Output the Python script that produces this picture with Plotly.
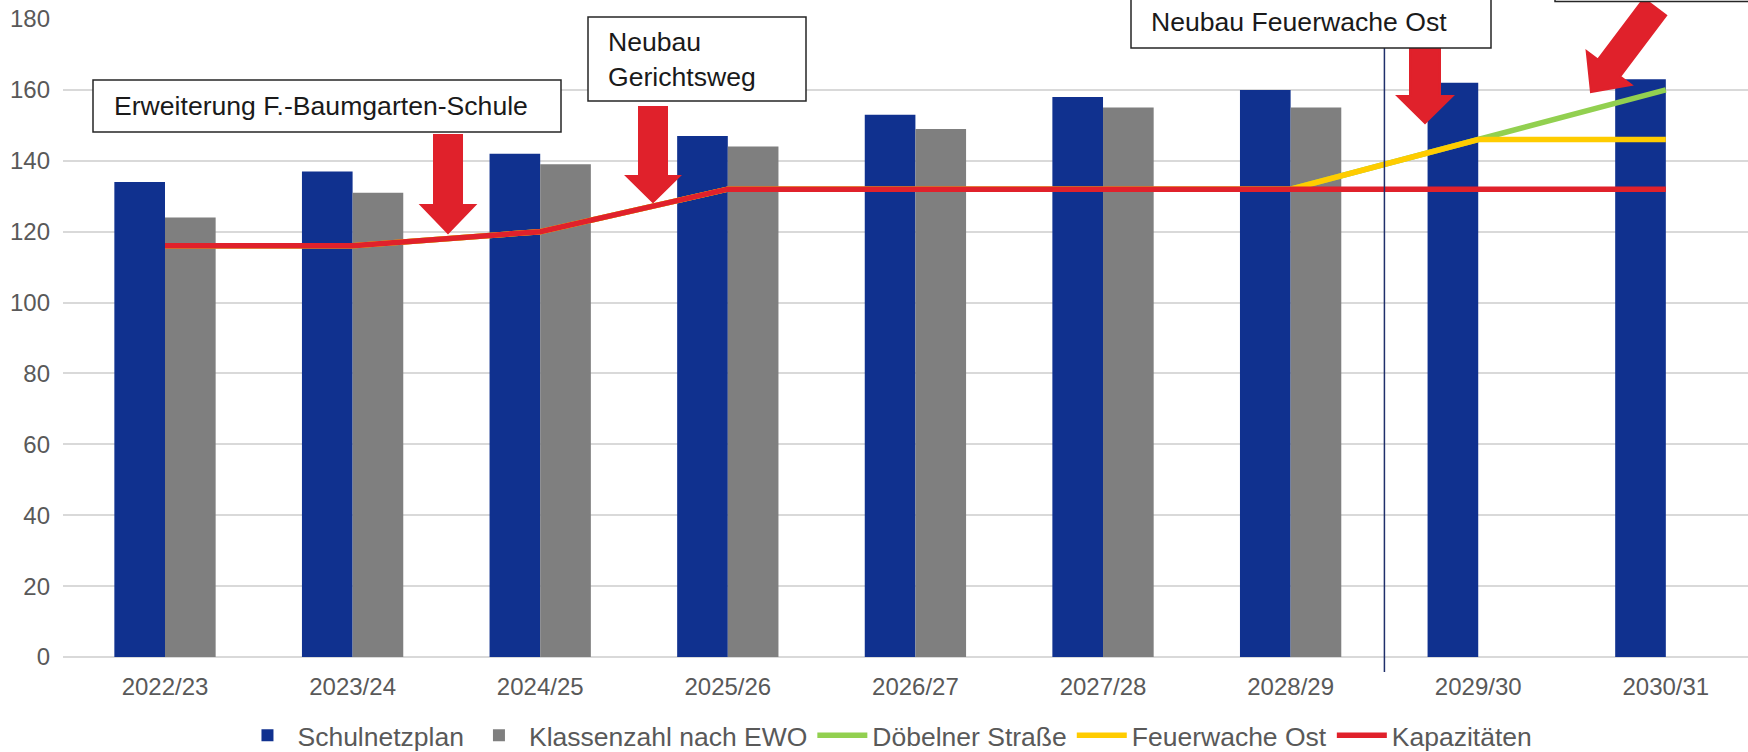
import math
import plotly.graph_objects as go

# ---------------- data ----------------
categories = ["2022/23", "2023/24", "2024/25", "2025/26", "2026/27",
              "2027/28", "2028/29", "2029/30", "2030/31"]
schulnetzplan = [134, 137, 142, 147, 153, 158, 160, 162, 163]
klassenzahl_ewo = [124, 131, 139, 144, 149, 155, 155, None, None]
doebelner = [116, 116, 120, 132, 132, 132, 132, 146, 160]
feuerwache = [116, 116, 120, 132, 132, 132, 132, 146, 146]
kapazitaeten = [116, 116, 120, 132, 132, 132, 132, 132, 132]
y_ticks = [0, 20, 40, 60, 80, 100, 120, 140, 160, 180]

# ---------------- layout geometry ----------------
W_FIG, H_FIG = 1748, 752
M_L, M_R, M_T, M_B = 63, 0, 19, 95
PW = W_FIG - M_L - M_R
PH = H_FIG - M_T - M_B
X_RANGE = [-0.5437, 8.438]

FONT = "Liberation Sans, Arial, sans-serif"
BLUE = "#10318F"
GRAY = "#7F7F7F"
GREEN = "#92D050"
YELLOW = "#FFCC00"
RED = "#E0212B"
AXIS_TXT = "#595959"


def pxx(px):
    return (px - M_L) / PW


def pxy(py):
    return (H_FIG - M_B - py) / PH


fig = go.Figure()
fig.add_trace(go.Bar(x=categories, y=schulnetzplan, name="Schulnetzplan",
                     marker=dict(color=BLUE, line=dict(width=0))))
fig.add_trace(go.Bar(x=categories, y=klassenzahl_ewo, name="Klassenzahl nach EWO",
                     marker=dict(color=GRAY, line=dict(width=0))))
fig.add_trace(go.Scatter(x=categories, y=doebelner, name="Döbelner Straße",
                         mode="lines", line=dict(color=GREEN, width=5.5)))
fig.add_trace(go.Scatter(x=categories, y=feuerwache, name="Feuerwache Ost",
                         mode="lines", line=dict(color=YELLOW, width=5.5)))
fig.add_trace(go.Scatter(x=categories, y=kapazitaeten, name="Kapazitäten",
                         mode="lines", line=dict(color=RED, width=5.5)))

shapes = []
annotations = []

# vertical separator between 2028/29 and 2029/30
shapes.append(dict(type="line", xref="x", yref="paper", x0=6.5, x1=6.5,
                   y0=pxy(672), y1=1.05, line=dict(color="#1F2F6B", width=1.5),
                   layer="above"))


def arrow(tail, tip, sw=28, hw=54, hl=28):
    (sx, sy), (tx, ty) = tail, tip
    L = math.hypot(tx - sx, ty - sy)
    dx, dy = (tx - sx) / L, (ty - sy) / L
    nx, ny = -dy, dx
    neckx, necky = tx - dx * hl, ty - dy * hl
    pts = [
        (sx + nx * sw / 2, sy + ny * sw / 2),
        (neckx + nx * sw / 2, necky + ny * sw / 2),
        (neckx + nx * hw / 2, necky + ny * hw / 2),
        (tx, ty),
        (neckx - nx * hw / 2, necky - ny * hw / 2),
        (neckx - nx * sw / 2, necky - ny * sw / 2),
        (sx - nx * sw / 2, sy - ny * sw / 2),
    ]
    path = "M " + " L ".join(f"{pxx(x):.5f},{pxy(y):.5f}" for x, y in pts) + " Z"
    return dict(type="path", xref="paper", yref="paper", path=path,
                fillcolor=RED, line=dict(color=RED, width=2), layer="above")


shapes.append(arrow((448, 135), (448, 233), sw=28, hw=54, hl=28))
shapes.append(arrow((653, 107), (653, 202), sw=28, hw=53, hl=26))
shapes.append(arrow((1425, 45), (1425, 123), sw=30, hw=55, hl=27))
shapes.append(arrow((1655, 7), (1591, 92), sw=28, hw=56, hl=30))


def box(x0, y0, x1, y1):
    return dict(type="rect", xref="paper", yref="paper",
                x0=pxx(x0), x1=pxx(x1), y0=pxy(y1), y1=pxy(y0),
                fillcolor="white", line=dict(color="#262626", width=1.5),
                layer="above")


shapes.append(box(93, 80, 561, 132))
shapes.append(box(588, 17, 806, 101))
shapes.append(box(1131, -8, 1491, 48))
shapes.append(box(1555, -60, 1770, 1.5))


def label(text, x, y):
    return dict(text=text, xref="paper", yref="paper", x=pxx(x), y=pxy(y),
                xanchor="left", yanchor="middle", align="left", showarrow=False,
                font=dict(family=FONT, size=26.6, color="#1A1A1A"))


annotations.append(label("Erweiterung F.-Baumgarten-Schule", 112, 106))
annotations.append(label("Neubau<br>Gerichtsweg", 606, 60))
annotations.append(label("Neubau Feuerwache Ost", 1149, 22))

fig.update_layout(
    width=W_FIG, height=H_FIG,
    margin=dict(l=M_L, r=M_R, t=M_T, b=M_B, pad=0, autoexpand=False),
    paper_bgcolor="white", plot_bgcolor="white",
    barmode="group", bargap=0.46, bargroupgap=0,
    font=dict(family=FONT, size=24, color=AXIS_TXT),
    showlegend=True,
    legend=dict(orientation="h", x=0.4893, xanchor="center", y=pxy(735.5),
                yanchor="middle", font=dict(family=FONT, size=26.5, color=AXIS_TXT),
                itemwidth=50, bgcolor="rgba(0,0,0,0)"),
    xaxis=dict(range=X_RANGE, showgrid=False, zeroline=False, showline=False,
               ticks="", tickfont=dict(family=FONT, size=24, color=AXIS_TXT),
               ticklabelstandoff=13),
    yaxis=dict(range=[0, 180], tickvals=y_ticks, showgrid=True,
               gridcolor="#D9D9D9", gridwidth=2, zeroline=True,
               zerolinecolor="#D9D9D9", zerolinewidth=2, showline=False,
               ticks="", tickfont=dict(family=FONT, size=24, color=AXIS_TXT),
               ticklabelstandoff=12),
    shapes=shapes,
    annotations=annotations,
)

fig.write_html(
    "out.html",
    config={"displayModeBar": False},
    post_script="document.body.style.margin='0';document.body.style.overflow='hidden';",
)
